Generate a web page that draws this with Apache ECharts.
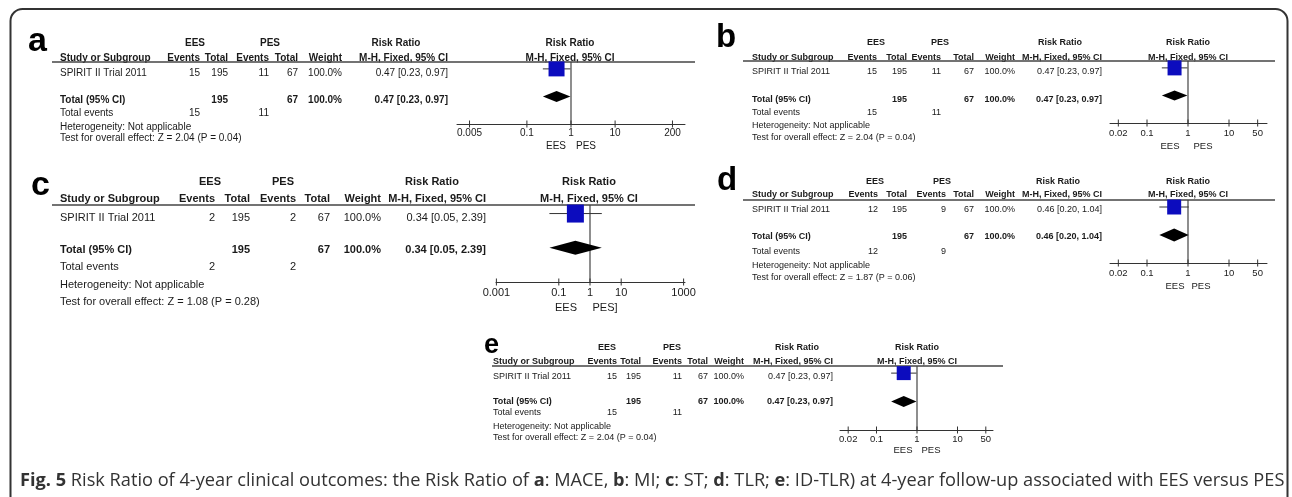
<!DOCTYPE html>
<html>
<head>
<meta charset="utf-8">
<script src="https://cdn.jsdelivr.net/npm/echarts/dist/echarts.min.js"></script>
<style>
  html, body { margin: 0; padding: 0; background: #fff; }
  #chart { width: 1292px; height: 497px; }
</style>
</head>
<body>
<div id="chart"></div>
<script>
// ---------------- data ----------------
const panelLetters = ['a', 'b', 'c', 'd', 'e'];
const outcomes = ['MACE', 'MI', 'ST', 'TLR', 'ID-TLR'];
const studyName = 'SPIRIT II Trial 2011';
const eesEvents = [15, 15, 2, 12, 15];
const eesTotal = [195, 195, 195, 195, 195];
const pesEvents = [11, 11, 2, 9, 11];
const pesTotal = [67, 67, 67, 67, 67];
const weightPct = [100.0, 100.0, 100.0, 100.0, 100.0];
const riskRatio = [0.47, 0.47, 0.34, 0.46, 0.47];
const ciLow = [0.23, 0.23, 0.05, 0.20, 0.23];
const ciHigh = [0.97, 0.97, 2.39, 1.04, 0.97];
const zValue = [2.04, 2.04, 1.08, 1.87, 2.04];
const pValue = [0.04, 0.04, 0.28, 0.06, 0.04];
const tickValues = [
  [0.005, 0.1, 1, 10, 200],
  [0.02, 0.1, 1, 10, 50],
  [0.001, 0.1, 1, 10, 1000],
  [0.02, 0.1, 1, 10, 50],
  [0.02, 0.1, 1, 10, 50]
];
const tickLabels = [
  ['0.005', '0.1', '1', '10', '200'],
  ['0.02', '0.1', '1', '10', '50'],
  ['0.001', '0.1', '1', '10', '1000'],
  ['0.02', '0.1', '1', '10', '50'],
  ['0.02', '0.1', '1', '10', '50']
];
const favourLabels = [
  ['EES', 'PES'], ['EES', 'PES'], ['EES', 'PES]'], ['EES', 'PES'], ['EES', 'PES']
];

// ---------------- layout (pixels) ----------------
const FF = '"Liberation Sans", Arial, sans-serif';
const layout = [
  { letter: [28, 42, 34], fs: 10, left: 60, lineL: 52, lineR: 695,
    rows: [43, 58, 73, 100, 113, 127, 138], cols: [200, 228, 269, 298, 342, 448],
    eesC: 195, pesC: 270, rrC: 396,
    plot: { l: 457, r: 685, one: 571, dec: 44.1, axisY: 124, lineY: 62, headC: 570,
            sq: [16, 15], dia: 5.5, tickFs: 10, labY: 9, favY: 22, fav: [-15, 15] } },
  { letter: [716, 38, 33], fs: 9, left: 752, lineL: 743, lineR: 1275,
    rows: [43, 58, 72, 100, 113, 126, 138], cols: [877, 907, 941, 974, 1015, 1102],
    eesC: 876, pesC: 940, rrC: 1060,
    plot: { l: 1110, r: 1267, one: 1188, dec: 41, axisY: 123, lineY: 61, headC: 1188,
            sq: [14, 15], dia: 5, tickFs: 9.5, labY: 10, favY: 23, fav: [-18, 15] } },
  { letter: [31, 186, 34], fs: 11, left: 60, lineL: 52, lineR: 695,
    rows: [182, 199, 218, 250, 267, 285, 302], cols: [215, 250, 296, 330, 381, 486],
    eesC: 210, pesC: 283, rrC: 432,
    plot: { l: 496, r: 685, one: 590, dec: 31.2, axisY: 282, lineY: 205, headC: 589,
            sq: [17, 18], dia: 7, tickFs: 11, labY: 11, favY: 26, fav: [-24, 15] } },
  { letter: [717, 181, 33], fs: 9, left: 752, lineL: 743, lineR: 1275,
    rows: [182, 195, 210, 237, 252, 266, 278], cols: [878, 907, 946, 974, 1015, 1102],
    eesC: 875, pesC: 942, rrC: 1058,
    plot: { l: 1110, r: 1267, one: 1188, dec: 41, axisY: 263, lineY: 200, headC: 1188,
            sq: [14, 15], dia: 6.5, tickFs: 9.5, labY: 10, favY: 23, fav: [-13, 13] } },
  { letter: [484, 346, 27], fs: 9, left: 493, lineL: 492, lineR: 1003,
    rows: [348, 362, 377, 402, 413, 427, 438], cols: [617, 641, 682, 708, 744, 833],
    eesC: 607, pesC: 672, rrC: 797,
    plot: { l: 840, r: 993, one: 917, dec: 40.5, axisY: 430, lineY: 366, headC: 917,
            sq: [14, 14], dia: 5.5, tickFs: 9.5, labY: 9, favY: 20, fav: [-14, 14] } }
];

const TXT = '#1a1a1a';
function T(x, y, text, font, align, color) {
  return { type: 'text', x: x, y: y, silent: true,
    style: { text: String(text), font: font, align: align || 'left', verticalAlign: 'middle', fill: color || TXT } };
}
function fmtCI(i) {
  return riskRatio[i].toFixed(2) + ' [' + ciLow[i].toFixed(2) + ', ' + ciHigh[i].toFixed(2) + ']';
}

const graphics = [];
// outer rounded frame
graphics.push({ type: 'rect', silent: true, shape: { x: 10.5, y: 9, width: 1277, height: 600, r: 12 },
  style: { fill: 'none', stroke: '#333', lineWidth: 2 } });

const grids = [], xAxes = [], yAxes = [], series = [];

layout.forEach(function (L, i) {
  const reg = L.fs + 'px ' + FF;
  const bold = 'bold ' + L.fs + 'px ' + FF;
  const R = L.rows, C = L.cols;
  // panel letter
  graphics.push(T(L.letter[0], L.letter[1], panelLetters[i], 'bold ' + L.letter[2] + 'px ' + FF, 'left', '#000'));
  // group headers
  graphics.push(T(L.eesC, R[0], 'EES', bold, 'center'));
  graphics.push(T(L.pesC, R[0], 'PES', bold, 'center'));
  graphics.push(T(L.rrC, R[0], 'Risk Ratio', bold, 'center'));
  graphics.push(T(L.plot.headC, R[0], 'Risk Ratio', bold, 'center'));
  // column headers
  graphics.push(T(L.left, R[1], 'Study or Subgroup', bold, 'left'));
  graphics.push(T(C[0], R[1], 'Events', bold, 'right'));
  graphics.push(T(C[1], R[1], 'Total', bold, 'right'));
  graphics.push(T(C[2], R[1], 'Events', bold, 'right'));
  graphics.push(T(C[3], R[1], 'Total', bold, 'right'));
  graphics.push(T(C[4], R[1], 'Weight', bold, 'right'));
  graphics.push(T(C[5], R[1], 'M-H, Fixed, 95% CI', bold, 'right'));
  graphics.push(T(L.plot.headC, R[1], 'M-H, Fixed, 95% CI', bold, 'center'));
  // header rule
  graphics.push({ type: 'line', silent: true,
    shape: { x1: L.lineL, y1: L.plot.lineY, x2: L.lineR, y2: L.plot.lineY },
    style: { stroke: '#444', lineWidth: 1.3 } });
  // study row
  graphics.push(T(L.left, R[2], studyName, reg, 'left'));
  graphics.push(T(C[0], R[2], eesEvents[i], reg, 'right'));
  graphics.push(T(C[1], R[2], eesTotal[i], reg, 'right'));
  graphics.push(T(C[2], R[2], pesEvents[i], reg, 'right'));
  graphics.push(T(C[3], R[2], pesTotal[i], reg, 'right'));
  graphics.push(T(C[4], R[2], weightPct[i].toFixed(1) + '%', reg, 'right'));
  graphics.push(T(C[5], R[2], fmtCI(i), reg, 'right'));
  // total row
  graphics.push(T(L.left, R[3], 'Total (95% CI)', bold, 'left'));
  graphics.push(T(C[1], R[3], eesTotal[i], bold, 'right'));
  graphics.push(T(C[3], R[3], pesTotal[i], bold, 'right'));
  graphics.push(T(C[4], R[3], weightPct[i].toFixed(1) + '%', bold, 'right'));
  graphics.push(T(C[5], R[3], fmtCI(i), bold, 'right'));
  // total events
  graphics.push(T(L.left, R[4], 'Total events', reg, 'left'));
  graphics.push(T(C[0], R[4], eesEvents[i], reg, 'right'));
  graphics.push(T(C[2], R[4], pesEvents[i], reg, 'right'));
  graphics.push(T(L.left, R[5], 'Heterogeneity: Not applicable', reg, 'left'));
  graphics.push(T(L.left, R[6], 'Test for overall effect: Z = ' + zValue[i].toFixed(2) +
    ' (P = ' + pValue[i].toFixed(2) + ')', reg, 'left'));

  // ----- plot grid (log risk-ratio axis) -----
  const P = L.plot;
  const xmin = Math.pow(10, (P.l - P.one) / P.dec);
  const xmax = Math.pow(10, (P.r - P.one) / P.dec);
  grids.push({ left: P.l, width: P.r - P.l, top: P.lineY, height: P.axisY - P.lineY });
  xAxes.push({ type: 'log', logBase: 10, gridIndex: i, min: xmin, max: xmax,
    axisLine: { show: true, onZero: false, lineStyle: { color: '#333', width: 1 } },
    axisTick: { show: false }, axisLabel: { show: false }, splitLine: { show: false } });
  yAxes.push({ type: 'value', gridIndex: i, min: 0, max: 2.25, show: false });

  const tickFont = P.tickFs + 'px ' + FF;
  // reference line at RR = 1 + favour labels
  series.push({ type: 'custom', xAxisIndex: i, yAxisIndex: i, clip: false, silent: true,
    data: [[1, 0]],
    renderItem: function (params, api) {
      const b = api.coord([api.value(0), 0]);
      const t = api.coord([api.value(0), 2.25]);
      return { type: 'group', children: [
        { type: 'line', shape: { x1: b[0], y1: b[1], x2: t[0], y2: t[1] }, style: { stroke: '#444', lineWidth: 1.2 } },
        { type: 'text', style: { text: favourLabels[i][0], x: b[0] + P.fav[0], y: b[1] + P.favY,
            align: 'center', verticalAlign: 'middle', font: tickFont, fill: TXT } },
        { type: 'text', style: { text: favourLabels[i][1], x: b[0] + P.fav[1], y: b[1] + P.favY,
            align: 'center', verticalAlign: 'middle', font: tickFont, fill: TXT } }
      ] };
    } });
  // ticks + labels
  series.push({ type: 'custom', xAxisIndex: i, yAxisIndex: i, clip: false, silent: true,
    data: tickValues[i].map(function (v) { return [v, 0]; }),
    renderItem: function (params, api) {
      const p = api.coord([api.value(0), 0]);
      return { type: 'group', children: [
        { type: 'line', shape: { x1: p[0], y1: p[1] - 3.5, x2: p[0], y2: p[1] + 3.5 }, style: { stroke: '#333', lineWidth: 1 } },
        { type: 'text', style: { text: tickLabels[i][params.dataIndex], x: p[0], y: p[1] + P.labY,
            align: 'center', verticalAlign: 'middle', font: tickFont, fill: TXT } }
      ] };
    } });
  // study: CI line + weighted square
  series.push({ type: 'custom', xAxisIndex: i, yAxisIndex: i, clip: false, silent: true,
    data: [[riskRatio[i], ciLow[i], ciHigh[i], 2]],
    renderItem: function (params, api) {
      const y = api.value(3);
      const c = api.coord([api.value(0), y]);
      const lo = api.coord([api.value(1), y]);
      const hi = api.coord([api.value(2), y]);
      return { type: 'group', children: [
        { type: 'line', shape: { x1: lo[0], y1: c[1], x2: hi[0], y2: c[1] }, style: { stroke: '#333', lineWidth: 1 } },
        { type: 'rect', shape: { x: c[0] - P.sq[0] / 2, y: c[1] - P.sq[1] / 2, width: P.sq[0], height: P.sq[1] },
          style: { fill: '#0c0cbe' } }
      ] };
    } });
  // pooled total: diamond
  series.push({ type: 'custom', xAxisIndex: i, yAxisIndex: i, clip: false, silent: true,
    data: [[riskRatio[i], ciLow[i], ciHigh[i], 1]],
    renderItem: function (params, api) {
      const y = api.value(3);
      const c = api.coord([api.value(0), y]);
      const lo = api.coord([api.value(1), y]);
      const hi = api.coord([api.value(2), y]);
      return { type: 'polygon',
        shape: { points: [[lo[0], c[1]], [c[0], c[1] - P.dia], [hi[0], c[1]], [c[0], c[1] + P.dia]] },
        style: { fill: '#000' } };
    } });
});

// caption
const capParts = panelLetters.map(function (l, k) { return '{b|' + l + '}: ' + outcomes[k]; });
const captionText = '{f|Fig. 5} Risk Ratio of 4-year clinical outcomes: the Risk Ratio of ' +
  capParts[0] + ', ' + capParts[1] + '; ' + capParts[2] + '; ' + capParts[3] + '; ' + capParts[4] +
  ') at 4-year follow-up associated with EES versus PES';
const capFont = '18.2px "Open Sans", sans-serif';
const capBold = 'bold 18.2px "Open Sans", sans-serif';
graphics.push({ type: 'text', x: 20, y: 481, silent: true,
  style: { text: captionText, font: capFont, fill: '#333', verticalAlign: 'middle', align: 'left',
    rich: {
      f: { font: capBold, fill: '#333' },
      b: { font: capBold, fill: '#333' }
    } } });

const chart = echarts.init(document.getElementById('chart'));
chart.setOption({
  animation: false,
  backgroundColor: '#fff',
  grid: grids,
  xAxis: xAxes,
  yAxis: yAxes,
  series: series,
  graphic: { elements: graphics }
});
</script>
</body>
</html>
